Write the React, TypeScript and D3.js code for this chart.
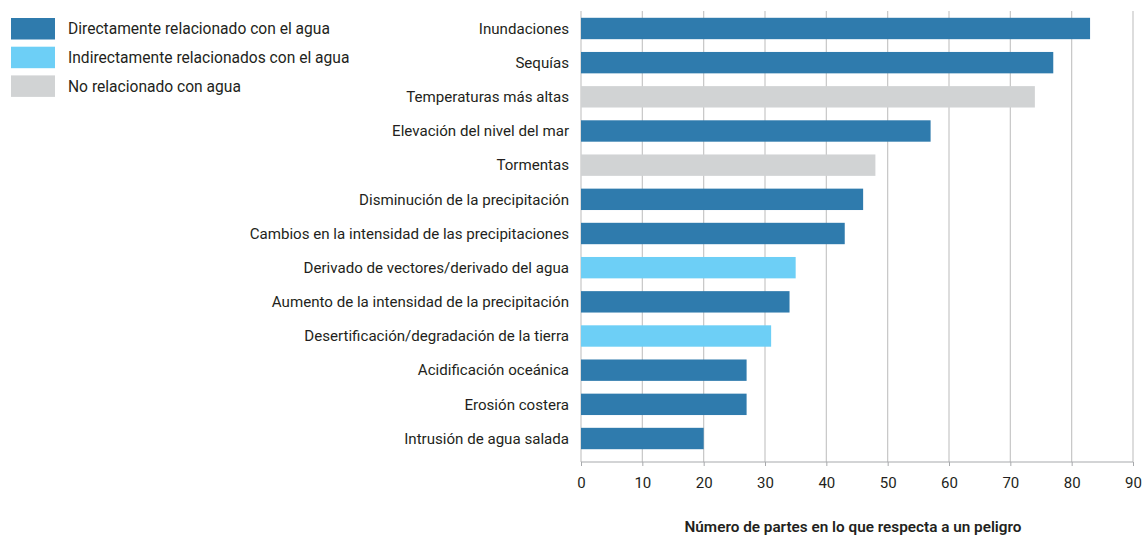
import React, { useEffect, useRef } from 'react';
import * as d3 from 'd3';

const categories = [
  'Inundaciones',
  'Sequías',
  'Temperaturas más altas',
  'Elevación del nivel del mar',
  'Tormentas',
  'Disminución de la precipitación',
  'Cambios en la intensidad de las precipitaciones',
  'Derivado de vectores/derivado del agua',
  'Aumento de la intensidad de la precipitación',
  'Desertificación/degradación de la tierra',
  'Acidificación oceánica',
  'Erosión costera',
  'Intrusión de agua salada',
];
const values = [83, 77, 74, 57, 48, 46, 43, 35, 34, 31, 27, 27, 20];
// 0 = directamente, 1 = indirectamente, 2 = no relacionado
const groups = [0, 0, 2, 0, 2, 0, 0, 1, 0, 1, 0, 0, 0];
const legendLabels = [
  'Directamente relacionado con el agua',
  'Indirectamente relacionados con el agua',
  'No relacionado con agua',
];
const xTicks = [0, 10, 20, 30, 40, 50, 60, 70, 80, 90];
const xTitle = 'Número de partes en lo que respecta a un peligro';

const COLORS = ['#2f7bad', '#6dcff6', '#d1d3d4'];
const W = 1143;
const H = 535;
const FONT = 'Roboto, "Noto Sans", sans-serif';

export default function App() {
  const svgRef = useRef<SVGSVGElement>(null);

  useEffect(() => {
    if (!svgRef.current) return;
    const svg = d3.select(svgRef.current);
    svg.selectAll('*').remove();

    const x = d3.scaleLinear().domain([0, 90]).range([581, 1133]);
    const y = d3.scaleBand<string>()
      .domain(categories)
      .range([6, 461])
      .paddingInner(0.374)
      .paddingOuter(0.345);

    const gridTop = 11;
    const axisY = 462;

    // gridlines
    svg.append('g')
      .selectAll('line')
      .data(xTicks)
      .join('line')
      .attr('x1', (d) => x(d))
      .attr('x2', (d) => x(d))
      .attr('y1', gridTop)
      .attr('y2', axisY)
      .attr('stroke', '#c6c6c6')
      .attr('stroke-width', 1.2);

    // bars
    svg.append('g')
      .selectAll('rect')
      .data(categories)
      .join('rect')
      .attr('x', x(0))
      .attr('y', (d) => y(d)!)
      .attr('width', (_, i) => x(values[i]) - x(0))
      .attr('height', y.bandwidth())
      .attr('fill', (_, i) => COLORS[groups[i]]);

    // category labels
    svg.append('g')
      .selectAll('text')
      .data(categories)
      .join('text')
      .attr('x', 569)
      .attr('y', (d) => y(d)! + y.bandwidth() / 2)
      .attr('dy', '0.35em')
      .attr('text-anchor', 'end')
      .attr('font-family', FONT)
      .attr('font-size', 15.1)
      .attr('fill', '#231f20')
      .text((d) => d);

    // x axis
    const axis = d3.axisBottom(x)
      .tickValues(xTicks)
      .tickSize(4)
      .tickPadding(11)
      .tickFormat((d) => String(d));
    const g = svg.append('g')
      .attr('transform', `translate(0,${axisY})`)
      .call(axis);
    g.select('.domain').attr('stroke', '#a7a9ac').attr('d', `M${x(0)},0H${x(90)}`);
    g.selectAll('.tick line').attr('stroke', '#a7a9ac');
    g.selectAll('.tick text')
      .attr('font-family', FONT)
      .attr('font-size', 15)
      .attr('fill', '#231f20');

    svg.append('text')
      .attr('x', 853)
      .attr('y', 532)
      .attr('text-anchor', 'middle')
      .attr('font-family', FONT)
      .attr('font-size', 15.3)
      .attr('font-weight', 600)
      .attr('fill', '#231f20')
      .text(xTitle);

    // legend
    const leg = svg.append('g');
    legendLabels.forEach((label, i) => {
      const top = 18 + i * 28.7;
      leg.append('rect')
        .attr('x', 11)
        .attr('y', top)
        .attr('width', 44)
        .attr('height', 21.5)
        .attr('fill', COLORS[i]);
      leg.append('text')
        .attr('x', 68)
        .attr('y', top + 10.75)
        .attr('dy', '0.35em')
        .attr('font-family', FONT)
        .attr('font-size', 15.6)
        .attr('fill', '#231f20')
        .text(label);
    });
  }, []);

  return (
    <div style={{ position: 'absolute', left: 0, top: 0, width: W, height: H, background: '#fff' }}>
      <svg ref={svgRef} width={W} height={H} />
    </div>
  );
}
